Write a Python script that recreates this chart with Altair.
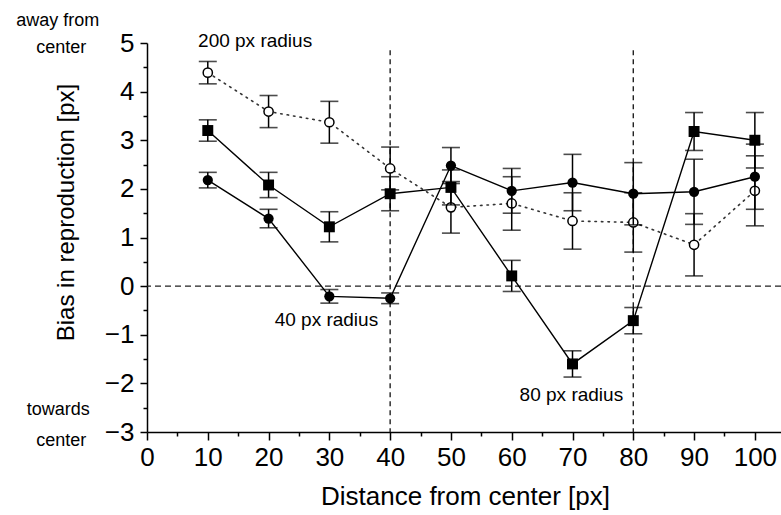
import altair as alt
import pandas as pd

# ---------------- data ----------------
distance = [10, 20, 30, 40, 50, 60, 70, 80, 90, 100]

# 200 px radius (open circles, dotted line)
r200_mean = [4.39, 3.59, 3.37, 2.42, 1.62, 1.70, 1.34, 1.31, 0.85, 1.96]
r200_err = [0.23, 0.33, 0.43, 0.44, 0.53, 0.55, 0.58, 0.61, 0.64, 0.72]

# 80 px radius (filled squares)
r80_mean = [3.20, 2.08, 1.22, 1.90, 2.03, 0.21, -1.60, -0.71, 3.18, 3.00]
r80_err = [0.22, 0.26, 0.31, 0.35, 0.36, 0.32, 0.27, 0.27, 0.39, 0.57]

# 40 px radius (filled circles)
r40_mean = [2.18, 1.39, -0.21, -0.25, 2.48, 1.96, 2.13, 1.90, 1.94, 2.25]
r40_err = [0.16, 0.19, 0.14, 0.11, 0.37, 0.46, 0.58, 0.64, 0.67, 0.67]

ref_lines_x = [40, 80]
x_ticks = list(range(0, 101, 5))
y_ticks = [v / 2 for v in range(-6, 11)]

annot_text = ["200 px radius", "40 px radius", "80 px radius"]
annot_x = [8.4, 21.0, 61.3]
annot_y = [5.05, -0.70, -2.24]

side_text = ["away from", "center", "towards", "center"]
side_x = [-14.7, -14.1, -14.6, -14.1]
side_y = [5.45, 4.90, -2.55, -3.19]


def frame(mean, err, name):
    return pd.DataFrame({
        "x": distance,
        "y": mean,
        "lo": [m - e for m, e in zip(mean, err)],
        "hi": [m + e for m, e in zip(mean, err)],
        "series": name,
    })


d200 = frame(r200_mean, r200_err, "200 px")
d80 = frame(r80_mean, r80_err, "80 px")
d40 = frame(r40_mean, r40_err, "40 px")

FONT = "Liberation Sans, Arial, sans-serif"

xs = alt.Scale(domain=[0, 104.3], nice=False, zero=False)
ys = alt.Scale(domain=[-3, 5], nice=False, zero=False)

xaxis = alt.Axis(
    values=x_ticks,
    labelExpr="datum.value % 10 === 0 ? format(datum.value, 'd') : ''",
    tickSize={"condition": {"test": "datum.value % 10 === 0", "value": 8}, "value": 4},
    title="Distance from center [px]",
    titleFontSize=26,
    titleX=318,
    titleY=64,
    titleBaseline="middle",
    titleAlign="center",
    labelFontSize=26,
    labelPadding=4,
    labelFlush=False,
    labelOverlap=False,
)
yaxis = alt.Axis(
    values=y_ticks,
    labelExpr="datum.value % 1 === 0 ? format(datum.value, 'd') : ''",
    tickSize={"condition": {"test": "datum.value % 1 === 0", "value": 7}, "value": 4},
    title="Bias in reproduction [px]",
    titleFontSize=24,
    titleAngle=-90,
    titleX=-81,
    titleY=169,
    titleBaseline="middle",
    titleAlign="center",
    labelFontSize=26,
    labelPadding=6,
    labelOverlap=False,
)


def xe(f):
    return alt.X(f"{f}:Q", scale=xs, axis=xaxis)


def ye(f):
    return alt.Y(f"{f}:Q", scale=ys, axis=yaxis)


# reference lines
zero_df = pd.DataFrame({"y": [0]})
hrule = alt.Chart(zero_df).mark_rule(color="#222", strokeWidth=1.4, strokeDash=[6, 4]).encode(y=ye("y"))

vdf = pd.DataFrame({"x": ref_lines_x, "top": [4.85, 4.85], "bot": [-3, -3]})
vrule = alt.Chart(vdf).mark_rule(color="#222", strokeWidth=1.4, strokeDash=[5, 4]).encode(
    x=xe("x"), y=ye("top"), y2=alt.Y2("bot")
)


def series_layers(df, line_kwargs, point_mark):
    base = alt.Chart(df)
    line = base.mark_line(**line_kwargs).encode(x=xe("x"), y=ye("y"))
    bar = base.mark_rule(color="black", strokeWidth=1.5).encode(x=xe("x"), y=ye("lo"), y2=alt.Y2("hi"))
    cap_lo = base.mark_tick(orient="horizontal", size=18, thickness=1.6, color="black").encode(x=xe("x"), y=ye("lo"))
    cap_hi = base.mark_tick(orient="horizontal", size=18, thickness=1.6, color="black").encode(x=xe("x"), y=ye("hi"))
    pts = point_mark(base).encode(x=xe("x"), y=ye("y"))
    return [line, bar, cap_lo, cap_hi, pts]


l200 = series_layers(
    d200,
    dict(color="#333", strokeWidth=1.6, strokeDash=[1.5, 5], strokeCap="round"),
    lambda b: b.mark_point(shape="circle", filled=True, fill="white", stroke="black", strokeWidth=1.5, size=85, opacity=1),
)
l80 = series_layers(
    d80,
    dict(color="black", strokeWidth=1.4),
    lambda b: b.mark_point(shape="square", filled=True, color="black", size=120, opacity=1),
)
l40 = series_layers(
    d40,
    dict(color="black", strokeWidth=1.4),
    lambda b: b.mark_point(shape="circle", filled=True, color="black", size=105, opacity=1),
)

adf = pd.DataFrame({"t": annot_text, "x": annot_x, "y": annot_y})
annot = alt.Chart(adf).mark_text(align="left", baseline="middle", fontSize=19, font=FONT, color="black").encode(
    x=xe("x"), y=ye("y"), text="t:N"
)
sdf = pd.DataFrame({"t": side_text, "x": side_x, "y": side_y})
side = alt.Chart(sdf).mark_text(align="center", baseline="middle", fontSize=18, font=FONT, color="black").encode(
    x=xe("x"), y=ye("y"), text="t:N"
)

chart = alt.layer(hrule, vrule, *l200, *l80, *l40, annot, side).properties(
    width=634,
    height=389,
    autosize=alt.AutoSizeParams(type="none"),
    padding={"left": 147, "top": 43, "right": 0, "bottom": 83},
    background="white",
).configure_view(stroke=None).configure_axis(
    grid=False,
    domainColor="black",
    domainWidth=1.5,
    tickColor="black",
    tickWidth=1.5,
    labelColor="black",
    titleColor="black",
    labelFont=FONT,
    titleFont=FONT,
    titleFontWeight="normal",
)

chart.save("out.html", embed_options={"renderer": "svg", "actions": False})
